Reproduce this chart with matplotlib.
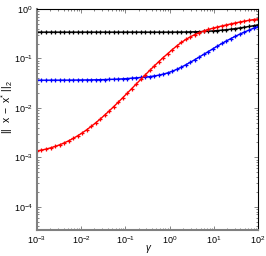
import numpy as np
import matplotlib
matplotlib.use('Agg')
from matplotlib import pyplot as plt
from matplotlib.ticker import LogLocator, NullFormatter

# gamma grid (log10), 50 samples from 1e-3 to 1e2
gamma = np.logspace(-3, 2, 50)

# log10 of ||x - x*||_2
red_log10 = [
    -2.870, -2.853, -2.833, -2.808, -2.780, -2.747, -2.709, -2.666, -2.618, -2.565,
    -2.507, -2.444, -2.375, -2.303, -2.227, -2.146, -2.062, -1.975, -1.886, -1.795,
    -1.703, -1.610, -1.517, -1.424, -1.332, -1.241, -1.152, -1.065, -0.981, -0.901,
    -0.821, -0.746, -0.677, -0.616, -0.563, -0.517, -0.478, -0.444, -0.414, -0.388,
    -0.365, -0.343, -0.322, -0.301, -0.282, -0.263, -0.246, -0.230, -0.214, -0.200,
]
blue_log10 = [
    -1.440, -1.440, -1.440, -1.439, -1.439, -1.439, -1.438, -1.438, -1.437, -1.436,
    -1.435, -1.434, -1.433, -1.431, -1.429, -1.427, -1.424, -1.421, -1.417, -1.412,
    -1.406, -1.399, -1.391, -1.385, -1.377, -1.367, -1.354, -1.338, -1.317, -1.291,
    -1.259, -1.220, -1.176, -1.128, -1.077, -1.024, -0.970, -0.915, -0.860, -0.805,
    -0.750, -0.697, -0.645, -0.597, -0.551, -0.507, -0.466, -0.427, -0.390, -0.355,
]
black_log10 = [
    -0.468, -0.468, -0.468, -0.468, -0.468, -0.468, -0.468, -0.468, -0.468, -0.468,
    -0.468, -0.468, -0.468, -0.468, -0.468, -0.468, -0.468, -0.468, -0.468, -0.468,
    -0.468, -0.468, -0.468, -0.468, -0.468, -0.468, -0.468, -0.468, -0.468, -0.468,
    -0.468, -0.467, -0.466, -0.465, -0.463, -0.461, -0.458, -0.454, -0.449, -0.443,
    -0.436, -0.428, -0.419, -0.408, -0.396, -0.383, -0.369, -0.354, -0.338, -0.322,
]

plt.rcParams['font.family'] = ['Liberation Sans', 'DejaVu Sans']
plt.rcParams['mathtext.fontset'] = 'custom'
plt.rcParams['mathtext.rm'] = 'Liberation Sans'
plt.rcParams['mathtext.it'] = 'Liberation Sans:italic'

fig = plt.figure(figsize=(2.66, 2.56), dpi=100)
ax = fig.add_axes([0.139, 0.1016, 0.831, 0.8633])

for vals, col in [(black_log10, 'black'), (blue_log10, 'blue'), (red_log10, 'red')]:
    ax.loglog(gamma, 10 ** np.array(vals), color=col, marker='+',
              markersize=3.2, markeredgewidth=0.9, linewidth=1.0)

ax.set_xlim(1e-3, 1e2)
ax.set_ylim(3.4e-5, 1)

ax.xaxis.set_major_locator(LogLocator(base=10, numticks=10))
ax.yaxis.set_major_locator(LogLocator(base=10, numticks=10))
ax.xaxis.set_minor_locator(LogLocator(base=10, subs=np.arange(2, 10), numticks=20))
ax.yaxis.set_minor_locator(LogLocator(base=10, subs=np.arange(2, 10), numticks=20))
ax.xaxis.set_minor_formatter(NullFormatter())
ax.yaxis.set_minor_formatter(NullFormatter())

ax.tick_params(which='both', direction='in', top=True, right=True,
               labelsize=6.5, width=0.5, colors='#555555', labelcolor='black')
ax.tick_params(which='major', length=3)
ax.tick_params(which='minor', length=1.5)
ax.tick_params(axis='both', pad=3)

for side in ['left', 'bottom']:
    ax.spines[side].set_color('#808080')
    ax.spines[side].set_linewidth(1.5)
for side in ['top', 'right']:
    ax.spines[side].set_color('black')
    ax.spines[side].set_linewidth(0.8)

ax.set_xlabel(r'$\gamma$', fontsize=7, va='center')
ax.set_ylabel(r'$||\ \ \mathrm{x}\ -\ \mathrm{x}^{*}\ ||_2$', fontsize=7.5, va='center')
ax.xaxis.set_label_coords(0.507, -0.088)
ax.yaxis.set_label_coords(-0.136, 0.557)

fig.savefig('out.png', dpi=100)
